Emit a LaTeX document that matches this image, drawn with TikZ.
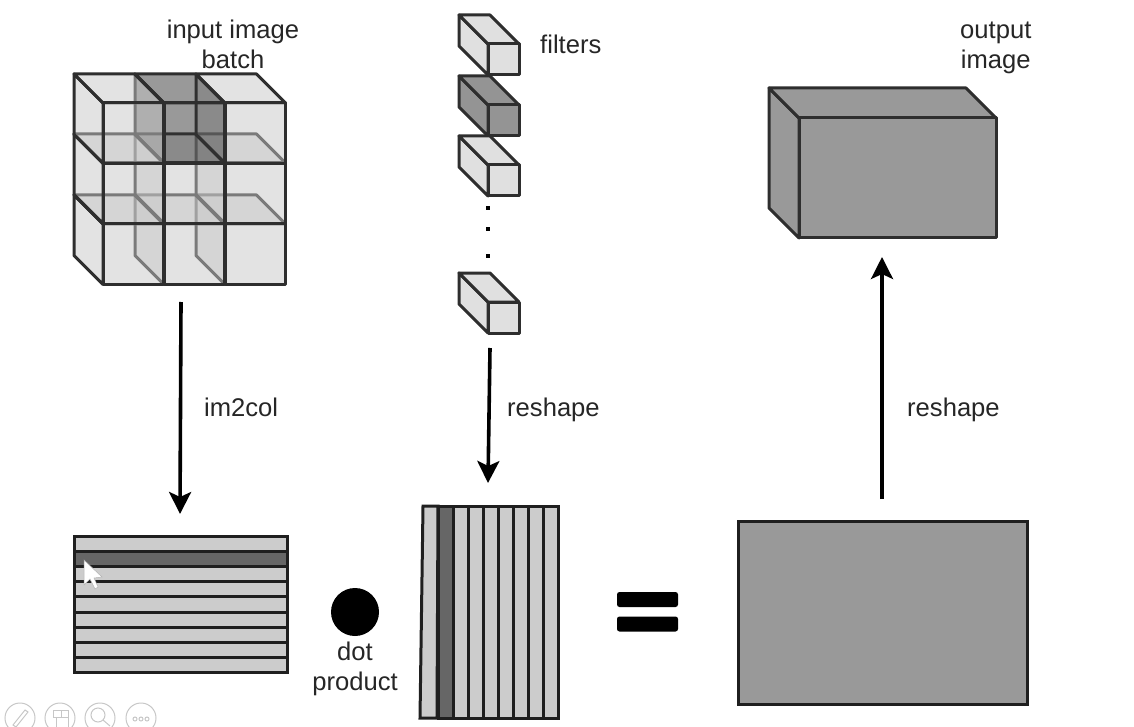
\documentclass[tikz,border=0pt]{standalone}
\usepackage{fontspec}
\setmainfont{Liberation Sans}
\usetikzlibrary{arrows.meta}
\begin{document}
\begin{tikzpicture}[x=1pt,y=-1pt,
    label/.style={inner sep=0pt,align=center,font=\fontsize{25.6}{30}\selectfont,text=black!85},
    blockedge/.style={draw=black!82,line width=3pt,line join=round},
    stripe/.style={draw=black!88,line width=3pt},
    flow/.style={line width=3.6pt,-{Stealth[length=22pt,width=22pt,inset=5pt]}},
    toolicon/.style={draw=black!22,line width=1pt}]
    % Block: front corner x, y, front width, height, depth, fill, opacity
    \def\drawblock#1#2#3#4#5#6#7{
        \path[blockedge,fill=#6,fill opacity=#7] (#1,#2) -- ++(-#5,-#5) -- ++(0,#4) -- ++(#5,#5) -- cycle;
        \path[blockedge,fill=#6,fill opacity=#7] (#1,#2) -- ++(-#5,-#5) -- ++(#3,0) -- ++(#5,#5) -- cycle;
        \path[blockedge,fill=#6,fill opacity=#7] (#1,#2) rectangle ++(#3,#4);
    }
    \clip (0,0) rectangle (1134,727);

    % Input image batch, drawn from the bottom row up and right to left
    \foreach \rowy in {224,163,103}{
        \foreach \colx in {225,164,103}{
            \def\blockfill{black!22}
            \ifnum\rowy=103 \ifnum\colx=164 \def\blockfill{black!80}\fi\fi
            \drawblock{\colx}{\rowy}{60.5}{60.5}{29}{\blockfill}{0.5}
        }
    }
    \node[label] (inputlabel) at (233,44) {input image\\batch};

    % Filters
    \drawblock{488}{44}{31}{31}{29}{black!12}{1}
    \drawblock{488}{105}{31}{31}{29}{black!42}{1}
    \drawblock{488}{165}{31}{31}{29}{black!12}{1}
    \drawblock{488}{302}{31}{31}{29}{black!12}{1}
    \foreach \doty in {206,227,254}
        \fill[black] (486,\doty) rectangle ++(4,4);
    \node[label,anchor=west] (filterlabel) at (540,44) {filters};

    % Output image
    \drawblock{799}{118}{197}{120}{30}{black!40}{1}
    \node[label,anchor=west] (outputlabel) at (960,48) {output\\image};

    % Row matrix
    \foreach \rownum in {0,...,8}{
        \def\stripefill{black!20}
        \ifnum\rownum=1 \def\stripefill{black!60}\fi
        \path[stripe,fill=\stripefill] (74,536+15.2*\rownum) rectangle (287,551.2+15.2*\rownum);
    }

    % Mouse pointer
    \draw[fill=white,draw=black!30,line width=0.5pt] (84,560) -- (84,585) -- (90,579) -- (95,589) -- (98,587) -- (94,578) -- (102,577) -- cycle;

    % Column matrix, its first column leans
    \path[stripe,fill=black!20] (423,506) -- (438,506) -- (437,718) -- (420,718) -- cycle;
    \foreach \colnum in {1,...,7}
        \path[stripe,fill=black!20] (453+15*\colnum-15,506) rectangle (453+15*\colnum+0.3,718);
    \path[stripe,fill=black!60] (438,506) rectangle (453,718);

    % Dot product and equals sign
    \node[circle,fill=black,minimum size=48pt,inner sep=0pt] (dotmark) at (355,612) {};
    \node[label] (dotlabel) at (355,669) {dot\\product};
    \node[fill=black,rounded corners=2.5pt,minimum width=61pt,minimum height=15pt,inner sep=0pt] (eqtop) at (647.5,599.5) {};
    \node[fill=black,rounded corners=2.5pt,minimum width=61pt,minimum height=15pt,inner sep=0pt] (eqbottom) at (647.5,624) {};

    % Result matrix
    \path[stripe,fill=black!40] (738,521) rectangle (1027,704);

    % Connectors
    \coordinate (batchout) at (181,302);
    \coordinate (rowsin) at (180,514);
    \coordinate (filtersout) at (490,348);
    \coordinate (colsin) at (488,483);
    \coordinate (resultout) at (882,499);
    \coordinate (outputin) at (882,257);
    \draw[flow] (batchout) -- (rowsin);
    \draw[flow] (filtersout) -- (colsin);
    \draw[flow] (resultout) -- (outputin);
    \node[label,anchor=base west] (imcollabel) at (204,416) {im2col};
    \node[label,anchor=base west] (reshapeleft) at (507,416) {reshape};
    \node[label,anchor=base west] (reshaperight) at (907,416) {reshape};

    % Viewer toolbar
    \foreach \iconx in {20,60,100,141}
        \draw[toolicon] (\iconx,718) circle (15);
    \draw[toolicon] (13,725) -- (25,710) -- (28,712) -- (16,727) -- cycle;
    \draw[toolicon] (53,710) rectangle (61,717) (61,710) rectangle (68,717) (56,717) rectangle (68,728);
    \draw[toolicon] (98,715) circle (7) (103,720) -- (110,726);
    \foreach \smallx in {135,141,147}
        \draw[toolicon] (\smallx,719) circle (2);
\end{tikzpicture}
\end{document}
